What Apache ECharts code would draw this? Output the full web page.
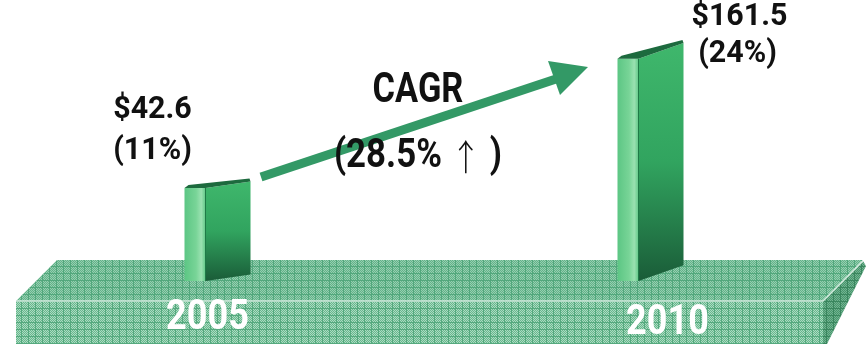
<!DOCTYPE html>
<html>
<head>
<meta charset="utf-8">
<script src="https://cdn.jsdelivr.net/npm/echarts@6/dist/echarts.min.js"></script>
<style>
  html, body { margin: 0; padding: 0; background: #ffffff; }
  #chart { width: 868px; height: 344px; }
</style>
</head>
<body>
<div id="chart"></div>
<script>
// ---- data ----
const years = ['2005', '2010'];
const marketSize = [42.6, 161.5];          // $ value shown above each bar
const marketShare = ['11%', '24%'];        // share shown under the value
const cagrTitle = 'CAGR';
const cagrRate = '28.5%';

// ---- layout / style (kept apart from the data) ----
const Y_MIN = -43;                          // bars rise from the platform surface
const Y_MAX = 200;
const valueLabelPos = [[-65, -78, -65, -37], [89, -42, 87, -5]];   // dx/dy of the two label lines from bar top
const yearLabelPos = [[-10, 37], [17, 42]];                         // dx/dy of year text from bar base
const FONT = 'Roboto, "Liberation Sans", "DejaVu Sans", sans-serif';

function tile(base, dot, line, size) {
  const c = document.createElement('canvas');
  c.width = size; c.height = size;
  const g = c.getContext('2d');
  g.fillStyle = base; g.fillRect(0, 0, size, size);
  g.fillStyle = dot;
  for (let y = 0; y < size; y++) for (let x = 0; x < size; x++) if ((x + y) % 2 === 0) g.fillRect(x, y, 1, 1);
  g.fillStyle = line;
  g.fillRect(0, 0, size, 1);
  g.fillRect(0, 0, 1, size);
  return c;
}
const topTile = tile('#62b28a', '#96cfaf', '#52a77c', 7);
const frontTile = tile('#67b78e', '#abdbc0', '#55a97e', 7);
const sideTile = tile('#47966c', '#72b291', '#3a865e', 7);

const chart = echarts.init(document.getElementById('chart'), null, { renderer: 'canvas' });

function renderBar(params, api) {
  const i = api.value(0);
  const v = api.value(1);
  const top = api.coord([i, v]);
  const base = api.coord([i, Y_MIN]);
  const cx = top[0];
  const yT = top[1];
  const yB = base[1];
  const h = yB - yT;
  const s = h * 0.071;
  const x0 = cx - 33, x1 = cx - 12, x2 = cx + 33;
  const lp = valueLabelPos[params.dataIndex];
  const yp = yearLabelPos[params.dataIndex];
  return {
    type: 'group',
    children: [
      {
        type: 'polygon',
        shape: { points: [[x1, yT], [x2, yT - s], [x2, yB - s], [x1, yB]] },
        style: {
          fill: new echarts.graphic.LinearGradient(0, 0, 0, 1, [
            { offset: 0, color: '#3fb76c' },
            { offset: 0.5, color: '#31a45f' },
            { offset: 1, color: '#1a5c38' }
          ])
        }
      },
      {
        type: 'rect',
        shape: { x: x0, y: yT, width: x1 - x0, height: h },
        style: {
          fill: new echarts.graphic.LinearGradient(0, 0, 1, 0, [
            { offset: 0, color: '#5cc684' },
            { offset: 0.55, color: '#78d497' },
            { offset: 0.8, color: '#9ae1b1' },
            { offset: 1, color: '#62c888' }
          ])
        }
      },
      {
        type: 'line',
        shape: { x1: x1, y1: yT, x2: x1, y2: yB },
        style: { stroke: '#1f7a47', lineWidth: 1 }
      },
      {
        type: 'polygon',
        shape: { points: [[x0, yT], [x0 + 4, yT - 3], [x2 - 1, yT - s - 3], [x2, yT - s], [x1, yT]] },
        style: { fill: '#1d6a3e' }
      },
      {
        type: 'text',
        x: cx + lp[0], y: yT + lp[1], scaleX: 0.95,
        style: {
          text: '$' + v, fill: '#111', font: 'bold 32px ' + FONT,
          align: 'center', verticalAlign: 'middle'
        }
      },
      {
        type: 'text',
        x: cx + lp[2], y: yT + lp[3], scaleX: 0.95,
        style: {
          text: '(' + marketShare[params.dataIndex] + ')', fill: '#111', font: 'bold 32px ' + FONT,
          align: 'center', verticalAlign: 'middle'
        }
      },
      {
        type: 'text',
        x: cx + yp[0], y: yB + yp[1], scaleX: 0.84,
        style: {
          text: years[params.dataIndex], fill: '#ffffff', font: 'bold 43px ' + FONT,
          align: 'center', verticalAlign: 'middle'
        }
      }
    ]
  };
}

chart.setOption({
  animation: false,
  grid: { left: 1, width: 866, top: 17, bottom: 63 },
  xAxis: { type: 'category', data: years, show: false },
  yAxis: { type: 'value', min: Y_MIN, max: Y_MAX, show: false },
  graphic: [
    // platform: top, front and side faces
    {
      type: 'polygon', z: -10,
      shape: { points: [[57, 260], [863, 260], [823, 301], [16, 301]] },
      style: { fill: { image: topTile, repeat: 'repeat' } }
    },
    {
      type: 'rect', z: -10,
      shape: { x: 16, y: 301, width: 807, height: 50 },
      style: { fill: { image: frontTile, repeat: 'repeat' } }
    },
    {
      type: 'polygon', z: -10,
      shape: { points: [[823, 301], [863, 261], [866, 266], [827, 344], [823, 344]] },
      style: { fill: { image: sideTile, repeat: 'repeat' } }
    },
    {
      type: 'polyline', z: -9,
      shape: { points: [[16, 301], [823, 301], [863, 261]] },
      style: { stroke: '#d4ecdf', lineWidth: 1.5, fill: null }
    },
    // growth arrow
    {
      type: 'line', z: 5,
      shape: { x1: 261, y1: 177, x2: 556, y2: 79 },
      style: { stroke: '#339966', lineWidth: 9 }
    },
    {
      type: 'polygon', z: 5,
      shape: { points: [[548, 61], [588, 67], [560, 95]] },
      style: { fill: '#339966' }
    },
    {
      type: 'text', z: 10, x: 418, y: 91, scaleX: 0.8,
      style: { text: cagrTitle, fill: '#111', font: 'bold 43px ' + FONT, align: 'center', verticalAlign: 'middle' }
    },
    {
      type: 'text', z: 10, x: 418, y: 157, scaleX: 0.85,
      style: {
        text: '(' + cagrRate + ' {a|\u2191} )', fill: '#111', font: 'bold 41px ' + FONT,
        align: 'center', verticalAlign: 'middle',
        rich: { a: { font: '300 36px "Noto Sans CJK KR", "DejaVu Sans", sans-serif', fill: '#111' } }
      }
    }
  ],
  series: [{
    type: 'custom',
    z: 3,
    data: marketSize.map((v, i) => [i, v]),
    encode: { x: 0, y: 1 },
    renderItem: renderBar
  }]
});
</script>
</body>
</html>
